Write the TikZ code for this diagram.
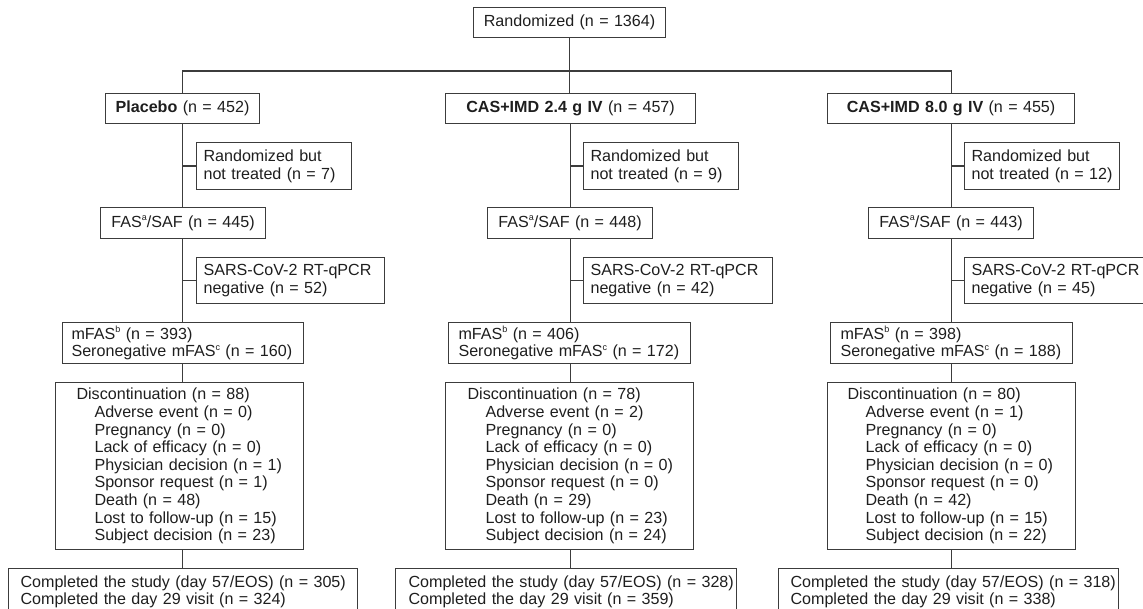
\documentclass[tikz,border=0pt]{standalone}
\usepackage{fontspec}
\setmainfont{Liberation Sans}
\usepackage{tikz}

\definecolor{framegrey}{HTML}{3C3C3C}
\definecolor{textgrey}{HTML}{1E1E1E}
\newcommand{\reason}{\hspace*{18pt}}
\newcommand{\fnmark}[1]{\raisebox{0.42em}{\fontsize{9}{9}\selectfont #1}}

\begin{document}
\begin{tikzpicture}[
    x=1pt, y=-1pt,
    font=\fontsize{16.1}{17.6}\selectfont,
    box/.style={draw=framegrey, line width=1.1pt, anchor=north west,
      inner xsep=0pt, inner ysep=0pt, align=left, text=textgrey},
    cbox/.style={box, align=center},
    pad/.style={execute at begin node={\leftskip=#1}},
    link/.style={draw=framegrey, line width=1.1pt}
  ]
    \useasboundingbox (0,0) rectangle (1143,609);

    \node[cbox, text width=192pt, minimum height=30pt] (rand) at (473,7) {Randomized (n = 1364)};
    \coordinate (split) at (570,71);

    % placebo
    \node[cbox, text width=154pt, minimum height=30pt] (arm1) at (105,93) {\textbf{Placebo} (n = 452)};
    \node[box, pad=7pt, text width=155pt, minimum height=47pt] (nt1) at (196,142) {Randomized but\\not treated (n = 7)};
    \node[cbox, text width=165pt, minimum height=31pt] (fas1) at (100,207) {FAS\fnmark{a}/SAF (n = 445)};
    \node[box, pad=7pt, text width=188pt, minimum height=46pt] (neg1) at (196,257) {SARS-CoV-2 RT-qPCR\\negative (n = 52)};
    \node[box, pad=9pt, text width=241pt, minimum height=41pt] (mfas1) at (62,322) {mFAS\fnmark{b} (n = 393)\\Seronegative mFAS\fnmark{c} (n = 160)};
    \node[box, pad=21pt, text width=248pt, minimum height=167pt] (disc1) at (55,382) {Discontinuation (n = 88)\\
      \reason Adverse event (n = 0)\\ \reason Pregnancy (n = 0)\\ \reason Lack of efficacy (n = 0)\\
      \reason Physician decision (n = 1)\\ \reason Sponsor request (n = 1)\\ \reason Death (n = 48)\\
      \reason Lost to follow-up (n = 15)\\ \reason Subject decision (n = 23)};
    \node[box, pad=12pt, text width=349pt, inner ysep=7pt] (comp1) at (8,568) {\mbox{Completed the study (day 57/EOS) (n = 305)}\\Completed the day 29 visit (n = 324)};

    % CAS+IMD 2.4 g
    \node[cbox, text width=250pt, minimum height=30pt] (arm2) at (445,93) {\textbf{CAS+IMD 2.4 g IV} (n = 457)};
    \node[box, pad=7pt, text width=155pt, minimum height=47pt] (nt2) at (583,142) {Randomized but\\not treated (n = 9)};
    \node[cbox, text width=165pt, minimum height=31pt] (fas2) at (487,207) {FAS\fnmark{a}/SAF (n = 448)};
    \node[box, pad=7pt, text width=189pt, minimum height=46pt] (neg2) at (583,257) {SARS-CoV-2 RT-qPCR\\negative (n = 42)};
    \node[box, pad=10pt, text width=242pt, minimum height=41pt] (mfas2) at (448,322) {mFAS\fnmark{b} (n = 406)\\Seronegative mFAS\fnmark{c} (n = 172)};
    \node[box, pad=22pt, text width=248pt, minimum height=167pt] (disc2) at (445,382) {Discontinuation (n = 78)\\
      \reason Adverse event (n = 2)\\ \reason Pregnancy (n = 0)\\ \reason Lack of efficacy (n = 0)\\
      \reason Physician decision (n = 0)\\ \reason Sponsor request (n = 0)\\ \reason Death (n = 29)\\
      \reason Lost to follow-up (n = 23)\\ \reason Subject decision (n = 24)};
    \node[box, pad=13pt, text width=341pt, inner ysep=7pt] (comp2) at (395,568) {\mbox{Completed the study (day 57/EOS) (n = 328)}\\Completed the day 29 visit (n = 359)};

    % CAS+IMD 8.0 g
    \node[cbox, text width=247pt, minimum height=30pt] (arm3) at (827,93) {\textbf{CAS+IMD 8.0 g IV} (n = 455)};
    \node[box, pad=7pt, text width=155pt, minimum height=47pt] (nt3) at (964,142) {Randomized but\\not treated (n = 12)};
    \node[cbox, text width=165pt, minimum height=31pt] (fas3) at (868,207) {FAS\fnmark{a}/SAF (n = 443)};
    \node[box, pad=7pt, text width=188pt, minimum height=46pt] (neg3) at (964,257) {SARS-CoV-2 RT-qPCR\\negative (n = 45)};
    \node[box, pad=10pt, text width=242pt, minimum height=41pt] (mfas3) at (830,322) {mFAS\fnmark{b} (n = 398)\\Seronegative mFAS\fnmark{c} (n = 188)};
    \node[box, pad=20pt, text width=248pt, minimum height=167pt] (disc3) at (827,382) {Discontinuation (n = 80)\\
      \reason Adverse event (n = 1)\\ \reason Pregnancy (n = 0)\\ \reason Lack of efficacy (n = 0)\\
      \reason Physician decision (n = 0)\\ \reason Sponsor request (n = 0)\\ \reason Death (n = 42)\\
      \reason Lost to follow-up (n = 15)\\ \reason Subject decision (n = 22)};
    \node[box, pad=12pt, text width=340pt, inner ysep=7pt] (comp3) at (778,568) {\mbox{Completed the study (day 57/EOS) (n = 318)}\\Completed the day 29 visit (n = 338)};

    % split into arms
    \draw[link] (rand.south) -- (rand.south |- arm2.north);
    \draw[link] (arm1.north) |- (split) -| (arm3.north);

    % trunks and side branches
    \draw[link] (arm1.south) -- (arm1.south |- fas1.north);
    \draw[link] (fas1.south -| arm1.south) -- (mfas1.north -| arm1.south);
    \draw[link] (mfas1.south -| arm1.south) -- (disc1.north -| arm1.south);
    \draw[link] (disc1.south -| arm1.south) -- (comp1.north -| arm1.south);
    \draw[link] (nt1.west) -- (nt1.west -| arm1.south);
    \draw[link] (neg1.west) -- (neg1.west -| arm1.south);

    \draw[link] (arm2.south) -- (arm2.south |- fas2.north);
    \draw[link] (fas2.south -| arm2.south) -- (mfas2.north -| arm2.south);
    \draw[link] (mfas2.south -| arm2.south) -- (disc2.north -| arm2.south);
    \draw[link] (disc2.south -| arm2.south) -- (comp2.north -| arm2.south);
    \draw[link] (nt2.west) -- (nt2.west -| arm2.south);
    \draw[link] (neg2.west) -- (neg2.west -| arm2.south);

    \draw[link] (arm3.south) -- (arm3.south |- fas3.north);
    \draw[link] (fas3.south -| arm3.south) -- (mfas3.north -| arm3.south);
    \draw[link] (mfas3.south -| arm3.south) -- (disc3.north -| arm3.south);
    \draw[link] (disc3.south -| arm3.south) -- (comp3.north -| arm3.south);
    \draw[link] (nt3.west) -- (nt3.west -| arm3.south);
    \draw[link] (neg3.west) -- (neg3.west -| arm3.south);
\end{tikzpicture}
\end{document}
